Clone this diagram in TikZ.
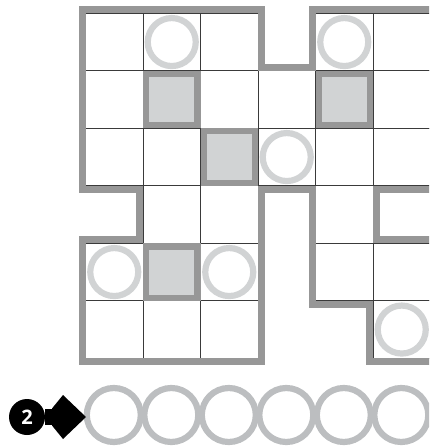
\documentclass[tikz,border=0pt]{standalone}
\usepackage{fontspec}
\newfontfamily\numfont{Open Sans}
\definecolor{wallgray}{HTML}{979797}
\definecolor{ringgray}{HTML}{D1D3D4}
\definecolor{rowgray}{HTML}{BCBEC0}
\definecolor{fillgray}{HTML}{D1D3D4}
\definecolor{gridline}{HTML}{3A3A3A}
\begin{document}
\begin{tikzpicture}[x=1pt,y=-1pt,
  cellbox/.style={rectangle, draw=gridline, line width=0.7pt, minimum size=57.5pt, inner sep=0pt, outer sep=0pt},
  wall/.style={draw=wallgray, line width=7pt, line join=miter},
  ring/.style={circle, draw=ringgray, line width=6.2pt, minimum size=48pt, inner sep=0pt},
  rowring/.style={circle, draw=rowgray, line width=6.2pt, minimum size=54pt, inner sep=0pt},
  block/.style={rectangle, draw=wallgray, fill=fillgray, line width=6.2pt, minimum size=51.3pt, inner sep=0pt},
  numdisc/.style={circle, fill=black, minimum size=36pt, inner sep=0pt, text=white, font=\numfont\bfseries\fontsize{20}{20}\selectfont}
]
\useasboundingbox (0,0) rectangle (429,446);
\begin{scope}
\clip (0,0) rectangle (429,446);
% cells
\foreach \r/\cols in {0/{0,1,2,4,5},1/{0,1,2,3,4,5},2/{0,1,2,3,4,5},3/{1,2,4},4/{0,1,2,4,5},5/{0,1,2,5}}{
  \foreach \c in \cols {
    \node[cellbox] (c\c\r) at ({85.5+57.5*\c+28.75},{13.3+57.5*\r+28.75}) {};
  }
}
% walls
\draw[wall] (440,9.8) -- (312,9.8) -- (312,67.3) -- (261.5,67.3) -- (261.5,9.8) -- (82,9.8)
  -- (82,189.3) -- (139.5,189.3) -- (139.5,239.8) -- (82,239.8) -- (82,361.8)
  -- (261.5,361.8) -- (261.5,189.3) -- (312,189.3) -- (312,304.3) -- (369.5,304.3)
  -- (369.5,361.8) -- (440,361.8);
\draw[wall] (440,189.3) -- (376.5,189.3) -- (376.5,239.8) -- (440,239.8);
% blocks
\foreach \n in {c11,c22,c41,c14} \node[block] (blk-\n) at (\n) {};
% rings
\foreach \n in {c10,c40,c32,c04,c24,c55} \node[ring] (ring-\n) at (\n) {};
% bottom row
\foreach \k in {1,...,6} \node[rowring] (b\k) at ({113.8+57.5*(\k-1)},415) {};
\node[numdisc] (num) at (27,417) {2};
\coordinate (headback) at (54,417);
\draw[line width=16pt, black] (num) -- (headback);
\fill[black] ([shift={(-2,-8.5)}]headback) -- ([shift={(9,-22)}]headback) -- ([shift={(32,0)}]headback)
  -- ([shift={(9,22)}]headback) -- ([shift={(-2,8.5)}]headback) -- cycle;
\end{scope}
\end{tikzpicture}
\end{document}
